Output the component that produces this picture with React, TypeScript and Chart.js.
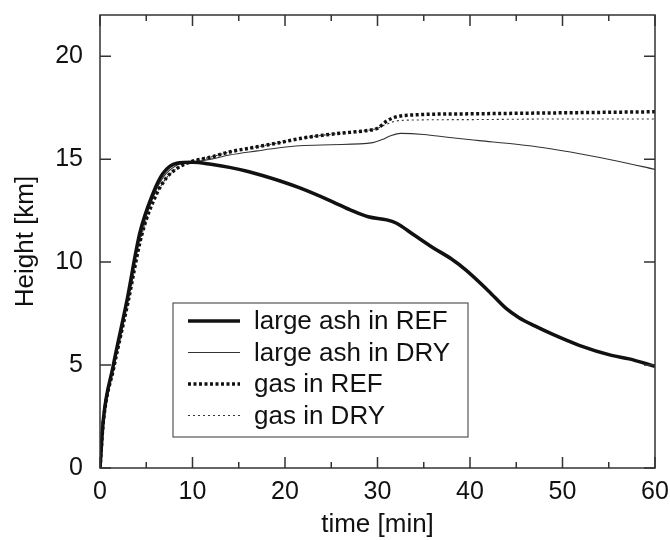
import React, { useEffect, useRef } from "react";
import { Chart, registerables } from "chart.js";

Chart.register(...registerables);

// ---- Data (time [min], height [km]) ----
const T_ASH_REF = [0, 0.35, 1.4, 2.9, 4.3, 5.7, 6.8, 8.3, 10, 12, 14, 16, 19.4, 21.6, 24.8, 27, 29, 31, 32, 34, 36, 38, 39.6, 42, 43.9, 45.3, 47, 48.9, 51.8, 55.3, 57.2, 60];
const H_ASH_REF = [0, 2.3, 4.9, 8.1, 11.4, 13.3, 14.3, 14.8, 14.85, 14.75, 14.6, 14.4, 13.95, 13.6, 13.0, 12.55, 12.2, 12.05, 11.9, 11.3, 10.7, 10.15, 9.6, 8.6, 7.75, 7.3, 6.9, 6.5, 5.96, 5.47, 5.3, 4.94];

const T_ASH_DRY = [0, 0.35, 1.4, 2.9, 4.3, 5.7, 6.8, 8.3, 10, 12, 14, 17, 19.4, 21.6, 25, 29.5, 30.5, 31.5, 32.5, 35, 37.8, 41, 45, 48, 52, 56, 60];
const H_ASH_DRY = [0, 2.3, 4.85, 8.0, 11.2, 13.1, 14.1, 14.7, 14.85, 15.0, 15.2, 15.4, 15.55, 15.65, 15.7, 15.8, 15.95, 16.15, 16.25, 16.2, 16.05, 15.9, 15.72, 15.55, 15.25, 14.9, 14.5];

const T_GAS_REF = [0, 0.35, 1.5, 3, 4.5, 6, 7.2, 8.5, 10, 12, 14, 17, 19.4, 21.6, 24.8, 27, 29, 30, 31, 32, 34, 40, 50, 60];
const H_GAS_REF = [0, 2.2, 4.9, 8.0, 11.3, 13.2, 14.1, 14.6, 14.9, 15.1, 15.35, 15.6, 15.8, 16.0, 16.2, 16.3, 16.4, 16.5, 16.85, 17.05, 17.15, 17.2, 17.25, 17.3];

const T_GAS_DRY = [0, 0.35, 1.5, 3, 4.5, 6, 7.2, 8.5, 10, 12, 14, 17, 19.4, 21.6, 24.8, 27, 29, 30, 31, 32, 34, 40, 50, 60];
const H_GAS_DRY = [0, 2.2, 4.9, 8.0, 11.3, 13.2, 14.1, 14.6, 14.9, 15.1, 15.35, 15.6, 15.8, 16.0, 16.2, 16.3, 16.4, 16.5, 16.7, 16.85, 16.9, 16.92, 16.95, 16.95];

const LABELS = ["large ash in REF", "large ash in DRY", "gas in REF", "gas in DRY"];

const X_TICKS = [0, 10, 20, 30, 40, 50, 60];
const X_MINOR = [5, 15, 25, 35, 45, 55];
const Y_TICKS = [0, 5, 10, 15, 20];

const FONT = "'Liberation Sans', Arial, Helvetica, sans-serif";

const zip = (t: number[], h: number[]) => t.map((x, i) => ({ x, y: h[i] }));

const noPad = (s: any) => {
  s.paddingTop = 0;
  s.paddingBottom = 0;
  s.paddingLeft = 0;
  s.paddingRight = 0;
};

const frame = {
  id: "frame",
  afterDraw(chart: any) {
    const { ctx, chartArea, scales } = chart;
    const { left, right, top, bottom } = chartArea;
    const x = scales.x;
    const y = scales.y;
    ctx.save();
    ctx.strokeStyle = "#333";
    ctx.lineWidth = 1.5;
    ctx.strokeRect(left, top, right - left, bottom - top);
    ctx.beginPath();
    X_TICKS.forEach((v) => {
      const px = x.getPixelForValue(v);
      ctx.moveTo(px, bottom);
      ctx.lineTo(px, bottom - 11);
      ctx.moveTo(px, top);
      ctx.lineTo(px, top + 11);
    });
    X_MINOR.forEach((v) => {
      const px = x.getPixelForValue(v);
      ctx.moveTo(px, bottom);
      ctx.lineTo(px, bottom - 6);
      ctx.moveTo(px, top);
      ctx.lineTo(px, top + 6);
    });
    Y_TICKS.forEach((v) => {
      const py = y.getPixelForValue(v);
      ctx.moveTo(left, py);
      ctx.lineTo(left + 11, py);
      ctx.moveTo(right, py);
      ctx.lineTo(right - 11, py);
    });
    ctx.stroke();

    // legend box
    const bx = 173, by = 303, bw = 295, bh = 134;
    ctx.fillStyle = "#fff";
    ctx.fillRect(bx, by, bw, bh);
    ctx.strokeStyle = "#555";
    ctx.lineWidth = 1.2;
    ctx.strokeRect(bx, by, bw, bh);
    chart.data.datasets.forEach((ds: any, i: number) => {
      const cy = by + 18 + i * 31.5;
      ctx.beginPath();
      ctx.strokeStyle = ds.borderColor;
      ctx.lineWidth = ds.borderWidth;
      ctx.setLineDash(ds.borderDash || []);
      ctx.moveTo(bx + 15, cy);
      ctx.lineTo(bx + 67, cy);
      ctx.stroke();
      ctx.setLineDash([]);
      ctx.fillStyle = "#111";
      ctx.font = `26px ${FONT}`;
      ctx.textBaseline = "middle";
      ctx.textAlign = "left";
      ctx.fillText(ds.label, bx + 81, cy + 1);
    });
    ctx.restore();
  },
};

export default function App() {
  const ref = useRef<HTMLCanvasElement | null>(null);
  useEffect(() => {
    if (!ref.current) return;
    const chart = new Chart(ref.current, {
      type: "line",
      data: {
        datasets: [
          { label: LABELS[0], data: zip(T_ASH_REF, H_ASH_REF), borderColor: "#111", borderWidth: 3.5, pointRadius: 0, cubicInterpolationMode: "monotone" },
          { label: LABELS[1], data: zip(T_ASH_DRY, H_ASH_DRY), borderColor: "#333", borderWidth: 1.1, pointRadius: 0, cubicInterpolationMode: "monotone" },
          { label: LABELS[2], data: zip(T_GAS_REF, H_GAS_REF), borderColor: "#111", borderWidth: 3.5, borderDash: [3, 2.5], pointRadius: 0, cubicInterpolationMode: "monotone" },
          { label: LABELS[3], data: zip(T_GAS_DRY, H_GAS_DRY), borderColor: "#333", borderWidth: 1.1, borderDash: [2, 3], pointRadius: 0, cubicInterpolationMode: "monotone" },
        ] as any,
      },
      options: {
        animation: false,
        responsive: false,
        layout: { padding: { left: 0, top: 15, right: 15, bottom: 0 } },
        plugins: { legend: { display: false }, tooltip: { enabled: false } },
        scales: {
          x: {
            type: "linear",
            min: 0,
            max: 60,
            grid: { display: false, drawTicks: false },
            border: { display: false },
            afterBuildTicks: (s: any) => { s.ticks = X_TICKS.map((v) => ({ value: v })); },
            afterFit: (s: any) => { s.height = 72; noPad(s); },
            ticks: { color: "#111", font: { family: FONT, size: 25 }, padding: 9, maxRotation: 0 },
            title: { display: true, text: "time [min]", color: "#111", font: { family: FONT, size: 26 }, padding: { top: 0, bottom: 0 } },
          },
          y: {
            type: "linear",
            min: 0,
            max: 22,
            grid: { display: false, drawTicks: false },
            border: { display: false },
            afterBuildTicks: (s: any) => { s.ticks = Y_TICKS.map((v) => ({ value: v })); },
            afterFit: (s: any) => { s.width = 100; noPad(s); },
            ticks: { color: "#111", font: { family: FONT, size: 25 }, padding: 17 },
            title: { display: true, text: "Height [km]", color: "#111", font: { family: FONT, size: 26 }, padding: { top: 10, bottom: 0 } },
          },
        },
      },
      plugins: [frame],
    });
    return () => chart.destroy();
  }, []);
  return (
    <div style={{ position: "fixed", left: 0, top: 0, width: 670, height: 540, background: "#fff" }}>
      <canvas ref={ref} width={670} height={540} style={{ width: 670, height: 540, display: "block" }} />
    </div>
  );
}
